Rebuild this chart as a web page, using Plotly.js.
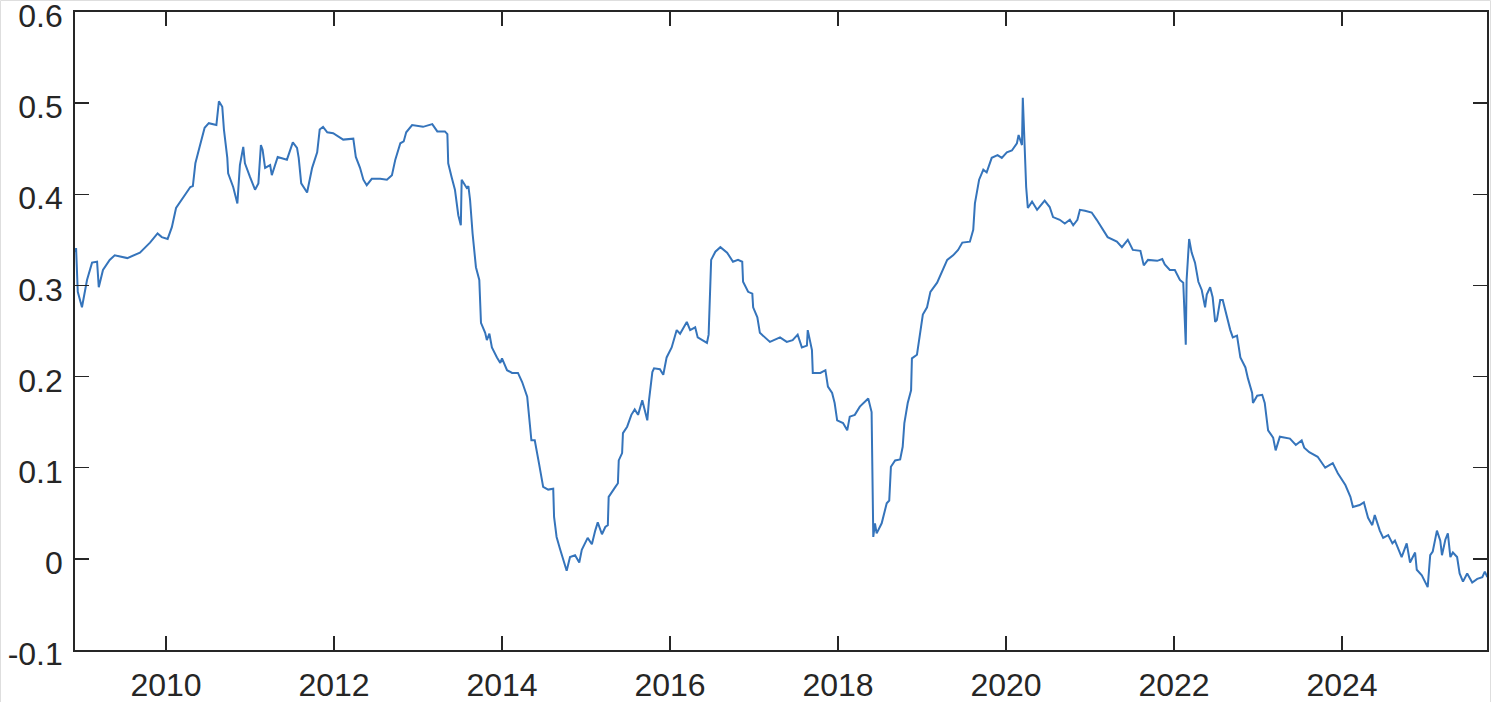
<!DOCTYPE html>
<html>
<head>
<meta charset="utf-8">
<script src="https://cdn.plot.ly/plotly-3.0.1.min.js"></script>
<style>html,body{margin:0;padding:0;background:#fff;}#chart{width:1492px;height:702px;}</style>
</head>
<body>
<div id="chart"></div>
<script>
// Time (decimal year)
const years = [
2008.92,2008.93,2008.95,2009.00,2009.06,2009.12,2009.18,2009.20,2009.25,2009.33,2009.39,2009.54,2009.69,2009.81,2009.90,2009.95,
2010.02,2010.07,2010.12,2010.19,2010.29,2010.32,2010.35,2010.40,2010.46,2010.51,2010.60,2010.63,2010.67,2010.69,2010.73,2010.74,2010.80,2010.85,2010.88,2010.92,2010.94,
2011.00,2011.06,2011.10,2011.13,2011.15,2011.18,2011.24,2011.26,2011.33,2011.44,2011.51,2011.56,2011.58,2011.61,2011.68,2011.74,2011.80,2011.83,2011.87,2011.92,2011.99,
2012.11,2012.23,2012.26,2012.31,2012.35,2012.39,2012.45,2012.55,2012.63,2012.69,2012.73,2012.79,2012.83,2012.86,2012.93,
2013.06,2013.17,2013.23,2013.32,2013.35,2013.36,2013.40,2013.44,2013.48,2013.51,2013.52,2013.58,2013.60,2013.62,2013.65,2013.69,2013.73,2013.75,2013.80,2013.82,2013.85,2013.88,2013.94,2013.98,
2014.00,2014.06,2014.12,2014.19,2014.24,2014.30,2014.35,2014.39,2014.44,2014.49,2014.55,2014.61,2014.62,2014.65,2014.69,2014.73,2014.77,2014.81,2014.87,2014.92,2014.95,
2015.02,2015.07,2015.11,2015.14,2015.19,2015.23,2015.26,2015.27,2015.35,2015.38,2015.39,2015.43,2015.44,2015.49,2015.54,2015.58,2015.62,2015.67,2015.73,2015.75,2015.79,2015.81,2015.88,2015.92,2015.96,
2016.02,2016.08,2016.12,2016.20,2016.24,2016.30,2016.33,2016.44,2016.46,2016.49,2016.54,2016.60,2016.68,2016.75,2016.81,2016.86,2016.87,2016.93,2016.98,2016.99,
2017.04,2017.07,2017.13,2017.19,2017.31,2017.39,2017.46,2017.52,2017.57,2017.63,2017.64,2017.69,2017.70,2017.79,2017.85,2017.88,2017.93,2017.96,2017.99,
2018.06,2018.11,2018.14,2018.20,2018.26,2018.36,2018.40,2018.42,2018.44,2018.46,2018.52,2018.58,2018.61,2018.63,2018.68,2018.74,2018.77,2018.79,2018.83,2018.87,2018.88,2018.94,2018.98,
2019.01,2019.06,2019.10,2019.18,2019.21,2019.30,2019.37,2019.43,2019.48,2019.57,2019.61,2019.63,2019.68,2019.73,2019.77,2019.83,2019.90,2019.95,
2020.01,2020.07,2020.13,2020.15,2020.19,2020.20,2020.21,2020.24,2020.26,2020.31,2020.37,2020.46,2020.52,2020.56,2020.64,2020.70,2020.76,2020.80,2020.85,2020.88,2020.94,
2021.02,2021.08,2021.14,2021.21,2021.32,2021.38,2021.45,2021.51,2021.60,2021.64,2021.69,2021.80,2021.86,2021.89,2021.95,
2022.01,2022.07,2022.11,2022.14,2022.15,2022.18,2022.21,2022.25,2022.29,2022.33,2022.37,2022.39,2022.43,2022.46,2022.49,2022.51,2022.55,2022.58,2022.63,2022.67,2022.70,2022.75,2022.79,2022.85,2022.88,2022.93,2022.94,2022.99,
2023.05,2023.08,2023.12,2023.18,2023.21,2023.26,2023.38,2023.45,2023.52,2023.55,2023.61,2023.71,2023.80,2023.89,2023.95,
2024.04,2024.10,2024.13,2024.21,2024.26,2024.31,2024.36,2024.39,2024.45,2024.49,2024.55,2024.60,2024.63,2024.67,2024.71,2024.77,2024.81,2024.87,2024.89,2024.95,
2025.02,2025.05,2025.08,2025.13,2025.17,2025.19,2025.23,2025.26,2025.29,2025.32,2025.37,2025.40,2025.44,2025.49,2025.55,2025.61,2025.67,2025.70,2025.73
];
// Series values
const values = [
0.336,0.341,0.293,0.276,0.306,0.325,0.326,0.298,0.317,0.328,0.333,0.330,0.336,0.347,0.357,0.353,
0.351,0.364,0.385,0.394,0.408,0.409,0.434,0.452,0.473,0.478,0.476,0.502,0.496,0.471,0.440,0.423,0.408,0.390,0.432,0.452,0.434,
0.419,0.405,0.412,0.454,0.449,0.429,0.432,0.421,0.441,0.438,0.457,0.451,0.440,0.412,0.402,0.429,0.446,0.471,0.474,0.468,0.467,
0.460,0.461,0.441,0.429,0.416,0.410,0.417,0.417,0.416,0.421,0.438,0.456,0.458,0.468,0.476,
0.474,0.477,0.469,0.469,0.466,0.434,0.419,0.405,0.377,0.366,0.416,0.407,0.409,0.394,0.357,0.320,0.306,0.259,0.248,0.240,0.247,0.232,0.221,0.215,
0.220,0.207,0.204,0.204,0.194,0.178,0.130,0.130,0.105,0.079,0.076,0.077,0.046,0.024,0.011,-0.002,-0.013,0.002,0.004,-0.004,0.010,
0.023,0.016,0.031,0.040,0.027,0.035,0.037,0.068,0.079,0.083,0.108,0.116,0.138,0.145,0.158,0.164,0.158,0.174,0.152,0.174,0.205,0.209,0.208,0.202,0.221,
0.232,0.251,0.247,0.260,0.251,0.254,0.243,0.237,0.246,0.328,0.337,0.342,0.336,0.326,0.328,0.326,0.304,0.293,0.291,0.276,
0.265,0.248,0.243,0.238,0.243,0.238,0.240,0.246,0.232,0.234,0.251,0.229,0.204,0.204,0.207,0.189,0.182,0.171,0.152,
0.149,0.141,0.156,0.158,0.167,0.176,0.161,0.024,0.039,0.028,0.039,0.061,0.064,0.101,0.108,0.109,0.123,0.149,0.171,0.185,0.220,0.224,0.248,
0.268,0.276,0.293,0.303,0.309,0.328,0.333,0.339,0.347,0.348,0.361,0.390,0.416,0.427,0.424,0.440,0.443,0.440,
0.446,0.448,0.456,0.465,0.454,0.506,0.482,0.408,0.385,0.392,0.383,0.393,0.386,0.375,0.372,0.368,0.372,0.366,0.372,0.383,0.382,
0.380,0.372,0.363,0.353,0.348,0.342,0.350,0.339,0.338,0.322,0.328,0.327,0.329,0.323,0.317,
0.317,0.306,0.303,0.235,0.306,0.351,0.336,0.325,0.304,0.295,0.276,0.290,0.298,0.287,0.260,0.262,0.284,0.284,0.265,0.251,0.243,0.245,0.221,0.210,0.198,0.182,0.171,0.179,
0.180,0.171,0.141,0.133,0.119,0.134,0.132,0.125,0.130,0.122,0.117,0.112,0.100,0.105,0.094,
0.081,0.068,0.057,0.059,0.062,0.045,0.037,0.048,0.031,0.023,0.026,0.017,0.020,0.011,0.002,0.017,-0.004,0.007,-0.012,-0.018,
-0.031,0.004,0.008,0.031,0.020,0.004,0.021,0.028,0.002,0.007,0.002,-0.016,-0.025,-0.016,-0.026,-0.022,-0.020,-0.014,-0.020
];
const xTickVals = [2010,2012,2014,2016,2018,2020,2022,2024];
const xTickText = ['2010','2012','2014','2016','2018','2020','2022','2024'];
const yTickVals = [-0.1,0,0.1,0.2,0.3,0.4,0.5,0.6];
const yTickText = ['-0.1','0','0.1','0.2','0.3','0.4','0.5','0.6'];

const axisColor = '#262626';
const font = {family: '"Liberation Sans", Arial, Helvetica, sans-serif', size: 32, color: '#262626'};

const trace = {
  x: years, y: values, type: 'scatter', mode: 'lines',
  line: {color: '#3574bb', width: 2},
  hoverinfo: 'skip'
};

const layout = {
  width: 1492, height: 702,
  margin: {l: 75, r: 5, t: 12, b: 52, pad: 0},
  paper_bgcolor: '#ffffff', plot_bgcolor: '#ffffff',
  showlegend: false,
  font: font,
  xaxis: {
    range: [2008.917, 2025.726],
    tickmode: 'array', tickvals: xTickVals, ticktext: xTickText,
    ticks: 'inside', ticklen: 14, tickwidth: 1.5, tickcolor: axisColor,
    showline: true, linecolor: axisColor, linewidth: 1.8, mirror: 'allticks',
    showgrid: false, zeroline: false, ticklabeloverflow: 'allow',
    tickfont: font, ticklabelstandoff: 6
  },
  yaxis: {
    range: [-0.1, 0.6],
    tickmode: 'array', tickvals: yTickVals, ticktext: yTickText,
    ticks: 'inside', ticklen: 14, tickwidth: 1.5, tickcolor: axisColor,
    showline: true, linecolor: axisColor, linewidth: 1.8, mirror: 'allticks',
    showgrid: false, zeroline: false, ticklabeloverflow: 'allow',
    tickfont: font, ticklabelstandoff: 4, ticklabelshift: 4
  },
  shapes: [{
    type: 'rect', xref: 'paper', yref: 'paper',
    x0: (0.5 - 75) / 1412, x1: (1490.5 - 75) / 1412,
    y0: (650 - 710) / 638, y1: (650 - 0.5) / 638,
    line: {color: '#dedede', width: 1}, fillcolor: 'rgba(0,0,0,0)', layer: 'below'
  }]
};

Plotly.newPlot('chart', [trace], layout, {staticPlot: true, displayModeBar: false});
</script>
</body>
</html>
